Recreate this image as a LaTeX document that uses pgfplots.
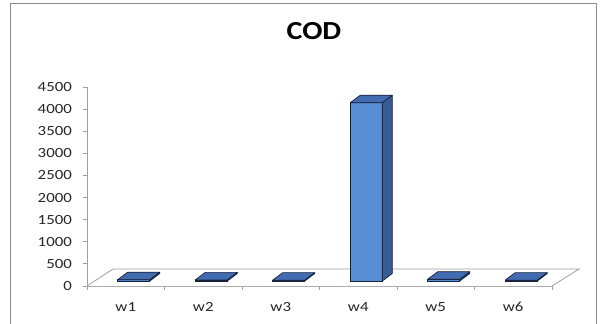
\documentclass[border=0pt]{standalone}
\usepackage{fontspec}
\setmainfont{Carlito}
\newfontfamily\lbl[FakeStretch=1.2]{Carlito}
\newfontfamily\ttl[FakeStretch=1.15]{Carlito}
\usepackage{pgfplots}
\pgfplotsset{compat=1.18}
\definecolor{frontc}{RGB}{88,141,214}
\definecolor{sidec}{RGB}{55,92,150}
\definecolor{topc}{RGB}{66,108,178}
\definecolor{edgec}{RGB}{22,34,58}
\definecolor{axc}{RGB}{160,160,160}
\definecolor{framec}{RGB}{140,140,140}
\begin{document}
\begin{tikzpicture}
\useasboundingbox (0,0) rectangle (607bp,-324bp);
\draw[framec, line width=1bp] (10.5bp,-340bp) -- (10.5bp,-3.5bp) -- (596bp,-3.5bp) -- (596bp,-340bp);
\node[anchor=base, inner sep=0pt] at (314bp,-39.3bp) {\ttl\fontsize{26bp}{30bp}\selectfont\bfseries COD};
\begin{axis}[
  at={(87bp,-286bp)}, anchor=south west,
  scale only axis, width=465bp, height=199bp,
  xmin=0.5, xmax=6.5, ymin=0, ymax=4500,
  axis lines=left, axis line style={axc, line width=0.8bp, -},
  clip=false,
  xtick={1,2,3,4,5,6},
  xticklabels={w1,w2,w3,w4,w5,w6},
  minor xtick={0.5,1.5,2.5,3.5,4.5,5.5,6.5},
  ytick={0,500,1000,1500,2000,2500,3000,3500,4000,4500},
  tick align=outside,
  major tick length=4bp, minor tick length=4bp,
  tick style={axc, line width=0.8bp},
  major x tick style={draw=none},
  /pgf/number format/assume math mode=true,
  /pgf/number format/1000 sep={},
  ticklabel style={font=\lbl\fontsize{14bp}{16bp}\selectfont, text=black!85},
  yticklabel style={inner sep=0pt, xshift=-11bp},
  xticklabel style={inner sep=0pt, yshift=-12bp},
]
% floor
\draw[axc, line width=0.8bp, fill=white] (axis cs:0.5,0) -- ++(26bp,17bp) -- ++(466bp,0bp) -- (axis cs:6.5,0);
% front faces
\addplot[ybar, bar width=32bp, bar shift=8bp, yshift=5bp, fill=frontc, draw=edgec, line width=0.7bp]
  coordinates {(1,30) (2,25) (3,20) (4,4032) (5,40) (6,20)};
% side and top faces
\addplot[scatter, only marks, mark=*, mark size=0pt,
  visualization depends on={rawy \as \val},
  scatter/@pre marker code/.code={%
    \pgfmathsetmacro\hh{5-\val/4500*199}%
    \pgfmathsetmacro\hb{12.5-\val/4500*199}%
    \filldraw[fill=sidec, draw=edgec, line width=0.7bp, line join=round]
      (24bp,5bp) -- (34bp,12.5bp) -- (34bp,\hb bp) -- (24bp,\hh bp) -- cycle;
    \filldraw[fill=topc, draw=edgec, line width=0.7bp, line join=round]
      (-8bp,5bp) -- (24bp,5bp) -- (34bp,12.5bp) -- (2bp,12.5bp) -- cycle;
    \begin{scope}[opacity=0]},
  scatter/@post marker code/.code={\end{scope}},
  ]
  coordinates {(1,30) (2,25) (3,20) (4,4032) (5,40) (6,20)};
\end{axis}
\end{tikzpicture}
\end{document}
